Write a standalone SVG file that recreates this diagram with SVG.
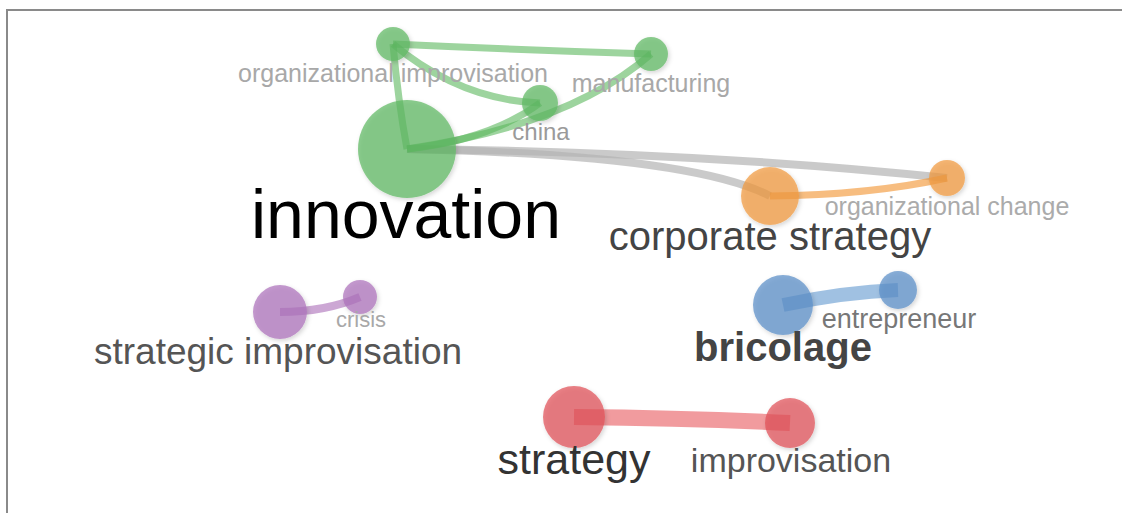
<svg xmlns="http://www.w3.org/2000/svg" width="1122" height="513" viewBox="0 0 1122 513">
  <defs>
    <filter id="sh" x="-30%" y="-30%" width="160%" height="160%">
      <feDropShadow dx="1.5" dy="2" stdDeviation="2" flood-color="#000" flood-opacity="0.22"/>
    </filter>
  </defs>
  <style>
    .e { fill: none; stroke-linecap: butt; }
    .g { stroke: #5cb85e; stroke-opacity: 0.6; stroke-width: 7; }
    .gr { stroke: #b4b4b4; stroke-opacity: 0.7; stroke-width: 8; }
    .o { stroke: #f39a3c; stroke-opacity: 0.65; stroke-width: 7; }
    .p { stroke: #b078bd; stroke-opacity: 0.65; stroke-width: 8; }
    .b { stroke: #6d9fd3; stroke-opacity: 0.65; stroke-width: 14; }
    .r { stroke: #e9656a; stroke-opacity: 0.65; stroke-width: 16; }
    circle { filter: url(#sh); fill-opacity: 0.72; }
    .cg { fill: #5fb862; }
    .co { fill: #f19a3e; }
    .cp { fill: #ad71bb; }
    .cb { fill: #5b8fc8; }
    .cr { fill: #e05157; }
    text { font-family: "Liberation Sans", Arial, sans-serif; text-anchor: middle; }
  </style>
  <rect x="0" y="0" width="1122" height="513" fill="#ffffff"/>
  <path d="M7,513 L7,10 L1122,10" fill="none" stroke="#8a8a8a" stroke-width="2"/>

  <g id="connectors">
    <path class="e gr" d="M407,149 Q 700,152 947,178"/>
    <path class="e gr" d="M407,149 Q 690,155 770,196"/>
    <path class="e g" d="M407,149 Q 398,100 393,44"/>
    <path class="e g" d="M407,149 Q 490,140 540,103"/>
    <path class="e g" d="M407,149 Q 570,125 651,54"/>
    <path class="e g" d="M393,44 Q 520,50 651,54"/>
    <path class="e g" d="M393,44 Q 460,100 540,103"/>
    <path class="e o" d="M770,196 Q 870,195 947,178"/>
    <path class="e p" d="M280,312 Q 325,312 360,297"/>
    <path class="e b" d="M783,305 Q 845,292 898,290"/>
    <path class="e r" d="M574,417 Q 690,418 790,423"/>
  </g>

  <g id="node-innovation"><circle class="cg" cx="407" cy="149" r="49"/></g>
  <g id="node-organizational-improvisation"><circle class="cg" cx="393" cy="44" r="17"/></g>
  <g id="node-manufacturing"><circle class="cg" cx="651" cy="54" r="17"/></g>
  <g id="node-china"><circle class="cg" cx="540" cy="103" r="18"/></g>
  <g id="node-corporate-strategy"><circle class="co" cx="770" cy="196" r="29"/></g>
  <g id="node-organizational-change"><circle class="co" cx="947" cy="178" r="18"/></g>
  <g id="node-strategic-improvisation"><circle class="cp" cx="280" cy="312" r="27"/></g>
  <g id="node-crisis"><circle class="cp" cx="360" cy="297" r="17"/></g>
  <g id="node-bricolage"><circle class="cb" cx="783" cy="305" r="30"/></g>
  <g id="node-entrepreneur"><circle class="cb" cx="898" cy="290" r="19"/></g>
  <g id="node-strategy"><circle class="cr" cx="574" cy="417" r="31"/></g>
  <g id="node-improvisation"><circle class="cr" cx="790" cy="423" r="25"/></g>

  <g id="labels">
    <text x="393" y="82" font-size="25" fill="#a8a8a8">organizational improvisation</text>
    <text x="651" y="92" font-size="25" fill="#a8a8a8">manufacturing</text>
    <text x="541" y="140" font-size="24" fill="#9a9a9a">china</text>
    <text x="406" y="238" font-size="68" fill="#000000">innovation</text>
    <text x="770" y="250" font-size="40" fill="#444444">corporate strategy</text>
    <text x="947" y="215" font-size="25" fill="#ababab">organizational change</text>
    <text x="361" y="327" font-size="22" fill="#a8a8a8">crisis</text>
    <text x="278" y="364" font-size="37" fill="#555555">strategic improvisation</text>
    <text x="899" y="328" font-size="27" fill="#777777">entrepreneur</text>
    <text x="783" y="361" font-size="40" font-weight="bold" fill="#444444">bricolage</text>
    <text x="574" y="474" font-size="43" fill="#333333">strategy</text>
    <text x="791" y="472" font-size="34" fill="#555555">improvisation</text>
  </g>
</svg>
